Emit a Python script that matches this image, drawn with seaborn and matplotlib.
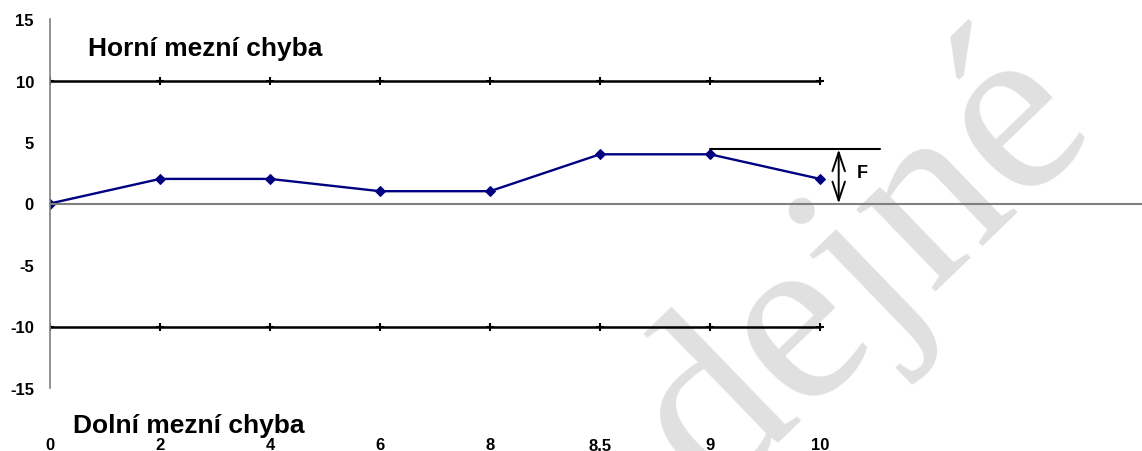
import numpy as np
import pandas as pd
import matplotlib
matplotlib.use("Agg")
import matplotlib.pyplot as plt
import seaborn as sns

# ---- data ----
categories = ["0", "2", "4", "6", "8", "8,5", "9", "10"]
measured = [0, 2, 2, 1, 1, 4, 4, 2]
upper_limit = [10, 10, 10, 10, 10, 10, 10, 10]
lower_limit = [-10, -10, -10, -10, -10, -10, -10, -10]
f_level = 4.4
y_ticks = [-15, -10, -5, 0, 5, 10, 15]
extra_ticks = 2  # unlabeled category ticks after the last label

sns.set_style("white")
plt.rcParams["font.family"] = ["Liberation Sans", "DejaVu Sans"]
for k in ["text.color", "axes.labelcolor", "xtick.color", "ytick.color"]:
    plt.rcParams[k] = "black"

pos = np.arange(len(categories))
df = pd.DataFrame({"pos": pos, "measured": measured,
                   "upper": upper_limit, "lower": lower_limit})

fig = plt.figure(figsize=(11.42, 4.52), dpi=100)
ax = fig.add_axes([50 / 1142, (452 - 389) / 452, 1 - 50 / 1142, (389 - 20) / 452])
ax.set_facecolor("none")

# watermark
fig.text(905 / 1142, 1 - 313 / 452, "dejné", family="Liberation Serif",
         fontsize=178, color="#e0e0e0", rotation=44, rotation_mode="anchor",
         ha="center", va="baseline", zorder=-5)

sns.lineplot(data=df, x="pos", y="upper", ax=ax, color="black", lw=1.8,
             marker="+", markersize=5.5, markeredgewidth=1.5, markeredgecolor="black")
sns.lineplot(data=df, x="pos", y="lower", ax=ax, color="black", lw=1.8,
             marker="+", markersize=5.5, markeredgewidth=1.5, markeredgecolor="black")
sns.lineplot(data=df, x="pos", y="measured", ax=ax, color="#000080", lw=1.7,
             marker="D", markersize=5.5, markeredgecolor="#000080")

# F annotation
last = len(categories) - 1
ax.plot([last - 1, last + 0.55], [f_level, f_level], color="black", lw=1.5)
ax.annotate("", xy=(last + 0.17, f_level), xytext=(last + 0.17, 0),
            arrowprops=dict(arrowstyle="<->,head_length=0.9,head_width=0.3",
                            color="black", lw=1.4, mutation_scale=15,
                            shrinkA=0, shrinkB=0))
ax.text(last + 0.33, 2.5, "F", fontsize=13, fontweight="bold", va="center", ha="left")

ax.text(0.345, 12.1, "Horní mezní chyba", fontsize=19, fontweight="bold",
        va="baseline", ha="left")
ax.text(0.21, -18.54, "Dolní mezní chyba", fontsize=19, fontweight="bold",
        va="baseline", ha="left", clip_on=False)

# axes
ax.set_ylim(-15, 15)
ax.set_xlim(0, (1142 - 50) / 110)
ax.set_yticks(y_ticks)
ax.set_yticklabels([str(v) for v in y_ticks], fontsize=12, fontweight="bold")
ax.set_xticks(np.arange(len(categories) + extra_ticks))
ax.tick_params(axis="x", direction="inout", length=8.5, width=1, color="black",
               labelbottom=False)
ax.tick_params(axis="y", direction="out", length=3.6, width=1, color="#808080", pad=8)
for i, lab in enumerate(categories):
    ax.text(i, -0.166, lab, transform=ax.get_xaxis_transform(), ha="center",
            va="baseline", fontsize=12, fontweight="bold", clip_on=False)

for s in ["top", "right"]:
    ax.spines[s].set_visible(False)
ax.spines["bottom"].set_position(("data", 0))
ax.spines["bottom"].set_color("#808080")
ax.spines["bottom"].set_linewidth(1.5)
ax.spines["left"].set_color("#808080")
ax.spines["left"].set_linewidth(1.2)
ax.set_xlabel("")
ax.set_ylabel("")
legend = ax.get_legend()
if legend:
    legend.remove()

fig.savefig("out.png", dpi=100)
